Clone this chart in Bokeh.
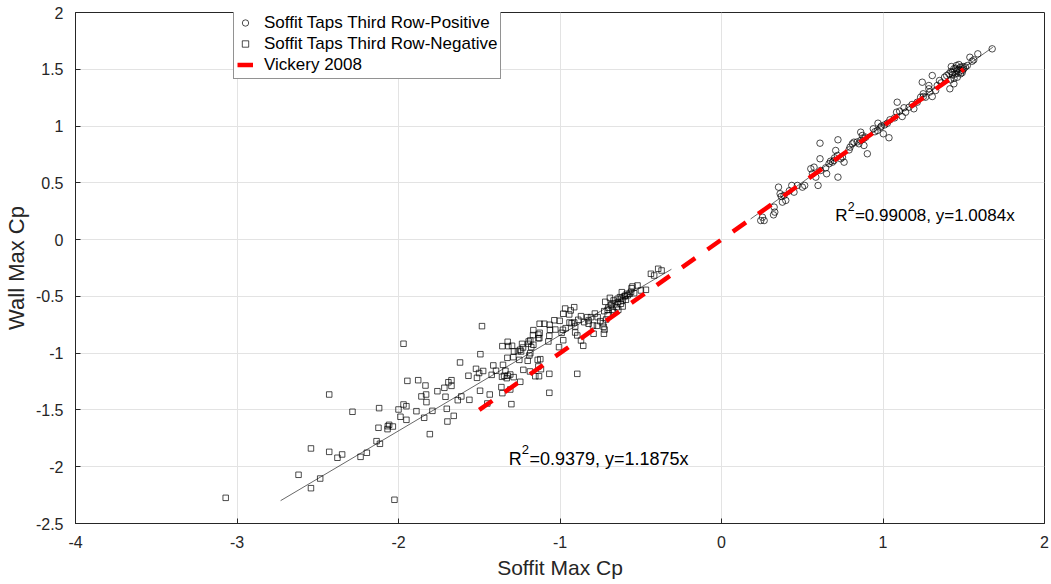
from bokeh.plotting import figure
from bokeh.models import Legend, LegendItem, SingleIntervalTicker, CustomJSTickFormatter, ColumnDataSource
from bokeh.core.properties import value
from bokeh.embed import file_html
from bokeh.resources import INLINE

# ---------------- data ----------------
pos_points = [
    (1.676, 1.680), (1.587, 1.636), (1.538, 1.606), (1.552, 1.571), (1.562, 1.583), (1.522, 1.533),
    (1.423, 1.524), (1.439, 1.504), (1.455, 1.533), (1.470, 1.542), (1.480, 1.518), (1.491, 1.489),
    (1.470, 1.474), (1.449, 1.460), (1.429, 1.474), (1.408, 1.460), (1.460, 1.430), (1.480, 1.460),
    (1.500, 1.504), (1.394, 1.445), (1.381, 1.430), (1.418, 1.407), (1.439, 1.372), (1.414, 1.328),
    (1.496, 1.524), (1.46, 1.49), (1.45, 1.51), (1.49, 1.47), (1.43, 1.45), (1.47, 1.50), (1.51, 1.52),
    (1.44, 1.42), (1.42, 1.48),
    (1.305, 1.445), (1.336, 1.357), (1.350, 1.401), (1.326, 1.313), (1.243, 1.386), (1.284, 1.328),
    (1.249, 1.284), (1.263, 1.254), (1.305, 1.260), (1.212, 1.210), (1.191, 1.152), (1.140, 1.122),
    (1.088, 1.210), (1.084, 1.122), (1.119, 1.084), (1.072, 1.072), (1.043, 1.055), (1.027, 1.025),
    (1.284, 1.357), (1.103, 1.131), (1.130, 1.161), (1.161, 1.166), (1.233, 1.254), (1.18, 1.19),
    (1.25, 1.26), (1.29, 1.30), (1.36, 1.38),
    (0.969, 1.025), (0.985, 0.990), (1.002, 0.932), (1.037, 0.897), (0.965, 0.961), (0.940, 0.976),
    (1.01, 1.01), (0.99, 1.00), (0.95, 0.95),
    (0.862, 0.946), (0.872, 0.917), (0.893, 0.902), (0.851, 0.844), (0.882, 0.829), (0.903, 0.756),
    (0.862, 0.873), (0.820, 0.858), (0.796, 0.814), (0.810, 0.844), (0.84, 0.86), (0.88, 0.89), (0.79, 0.79),
    (0.721, 0.879), (0.610, 0.849), (0.707, 0.785), (0.718, 0.741), (0.759, 0.682), (0.738, 0.712),
    (0.697, 0.697), (0.666, 0.668), (0.687, 0.682), (0.610, 0.712), (0.749, 0.726), (0.721, 0.550),
    (0.651, 0.580), (0.645, 0.632), (0.614, 0.609), (0.598, 0.477), (0.563, 0.580), (0.553, 0.624),
    (0.573, 0.638), (0.584, 0.550), (0.675, 0.690), (0.700, 0.720),
    (0.515, 0.477), (0.501, 0.462), (0.449, 0.418), (0.387, 0.389), (0.353, 0.462), (0.363, 0.404),
    (0.398, 0.345), (0.377, 0.330), (0.326, 0.286), (0.330, 0.242), (0.254, 0.197), (0.264, 0.168),
    (0.322, 0.218), (0.37, 0.38), (0.42, 0.43), (0.435, 0.477), (0.470, 0.477), (0.243, 0.168),
]

neg_points = [
    (-1.969, -0.917), (-2.429, -1.364), (-2.285, -1.516), (-2.120, -1.484), (-2.000, -1.496),
    (-1.969, -1.452), (-1.951, -1.467), (-1.945, -1.244), (-1.878, -1.238), (-1.833, -1.285),
    (-1.858, -1.381), (-1.829, -1.364), (-1.827, -1.431), (-1.988, -1.560), (-1.951, -1.587),
    (-1.889, -1.511), (-1.841, -1.569), (-1.790, -1.508), (-1.806, -1.713), (-1.759, -1.335),
    (-1.716, -1.305), (-1.691, -1.256), (-1.672, -1.238), (-1.672, -1.288), (-1.709, -1.384),
    (-1.701, -1.490), (-1.697, -1.602), (-1.658, -1.552), (-2.124, -1.657), (-2.066, -1.643),
    (-2.058, -1.631), (-2.035, -1.646), (-2.068, -1.669), (-2.136, -1.775), (-2.115, -1.798),
    (-2.542, -1.839), (-2.429, -1.869), (-2.378, -1.921), (-2.349, -1.892), (-2.235, -1.913),
    (-2.196, -1.877), (-2.619, -2.071), (-2.485, -2.104), (-2.542, -2.189), (-3.070, -2.274),
    (-2.025, -2.291),
    (-1.483, -0.762), (-1.493, -1.009), (-1.619, -1.082), (-1.567, -1.199), (-1.520, -1.138),
    (-1.514, -1.217), (-1.501, -1.175), (-1.476, -1.157), (-1.633, -1.414), (-1.611, -1.381),
    (-1.561, -1.411), (-1.495, -1.331), (-1.435, -1.364), (-1.450, -1.443), (-1.301, -1.449),
    (-1.363, -1.299), (-1.357, -1.352), (-1.308, -1.320), (-1.423, -1.191), (-1.413, -1.108),
    (-1.396, -1.155), (-1.353, -1.103), (-1.338, -1.155), (-1.359, -1.208), (-1.346, -1.199),
    (-1.324, -1.199), (-1.308, -1.188), (-1.330, -1.220), (-1.287, -1.211), (-1.227, -1.147),
    (-1.246, -1.252), (-1.326, -1.041), (-1.289, -1.035), (-1.285, -0.985), (-1.252, -1.059),
    (-1.260, -0.982), (-1.247, -0.970), (-1.241, -0.985), (-1.357, -0.938), (-1.324, -0.900),
    (-1.320, -0.938), (-1.297, -0.935), (-1.235, -0.918), (-1.229, -0.950), (-1.196, -0.918),
    (-1.190, -1.020), (-1.200, -1.067), (-1.184, -1.000), (-1.178, -0.947), (-1.184, -0.888),
    (-1.165, -0.926), (-1.194, -0.897), (-1.165, -0.797), (-1.167, -0.841), (-1.134, -0.868),
    (-1.134, -0.836), (-1.128, -0.868), (-1.126, -0.821), (-1.186, -1.161), (-1.138, -1.059),
    (-1.122, -1.053), (-1.153, -1.203), (-1.130, -1.203), (-1.134, -1.117), (-1.118, -1.141),
    (-1.066, -1.182), (-1.066, -1.349), (-0.893, -1.182), (-1.126, -0.741), (-1.097, -0.741),
    (-1.064, -0.750), (-1.035, -0.710), (-1.002, -0.715), (-1.029, -0.792), (-1.062, -0.794),
    (-1.066, -0.847), (-1.072, -0.897), (-0.982, -0.794), (-0.990, -0.821), (-0.980, -0.886),
    (-1.006, -0.947), (-0.965, -0.780), (-0.968, -0.607), (-0.943, -0.659), (-0.934, -0.624),
    (-0.912, -0.595), (-0.941, -0.730), (-0.928, -0.736), (-0.912, -0.730), (-0.887, -0.706),
    (-0.906, -0.765), (-0.906, -0.818), (-0.893, -0.844), (-0.870, -0.888), (-0.856, -0.935),
    (-0.870, -0.674), (-0.850, -0.727), (-0.831, -0.683), (-0.823, -0.712), (-0.823, -0.741),
    (-0.808, -0.683), (-0.784, -0.651), (-0.767, -0.683), (-0.751, -0.718), (-0.734, -0.736),
    (-0.730, -0.768), (-0.724, -0.792), (-0.714, -0.703), (-0.792, -0.829), (-0.728, -0.829),
    (-0.796, -0.756), (-0.771, -0.759), (-0.720, -0.548), (-0.705, -0.618), (-0.685, -0.580),
    (-0.668, -0.536), (-0.664, -0.639), (-0.649, -0.595), (-0.643, -0.521), (-0.629, -0.507),
    (-0.612, -0.536), (-0.623, -0.565), (-0.592, -0.530), (-0.598, -0.495), (-0.586, -0.477),
    (-0.569, -0.477), (-0.557, -0.428), (-0.541, -0.472), (-0.520, -0.404), (-0.499, -0.448),
    (-0.468, -0.442), (-0.437, -0.301), (-0.417, -0.316), (-0.392, -0.257), (-0.371, -0.272),
    (-0.691, -0.513), (-0.677, -0.618), (-0.726, -0.630), (-0.705, -0.668), (-0.612, -0.589),
    (-0.639, -0.618), (-0.617, -0.463), (-0.551, -0.413), (-0.980, -0.653),
    (-0.66, -0.56), (-0.64, -0.55), (-0.62, -0.52), (-0.60, -0.50), (-0.58, -0.49), (-0.56, -0.46),
    (-0.70, -0.60), (-0.68, -0.57),
]

pos_x = [a for a, b in pos_points]
pos_y = [b for a, b in pos_points]
neg_x = [a for a, b in neg_points]
neg_y = [b for a, b in neg_points]

# fitted lines and reference line (end points / slopes)
pos_fit_x = [0.18, 1.68]
pos_slope = 1.0084
neg_fit_x = [-2.73, -0.31]
neg_slope = 1.0 / 1.1875
vickery_x = [-1.5, 1.5]
vickery_slope = 1.0

series_labels = ["Soffit Taps Third Row-Positive", "Soffit Taps Third Row-Negative", "Vickery 2008"]
pos_note = "=0.99008, y=1.0084x"
neg_note = "=0.9379, y=1.1875x"

# ---------------- figure ----------------
FONT = "Liberation Sans"
DARK = "#262626"

p = figure(width=1051, height=584, x_range=(-4, 2), y_range=(-2.5, 2),
           output_backend="svg", toolbar_location=None,
           min_border_left=74, min_border_right=7, min_border_top=12, min_border_bottom=61)
p.background_fill_color = "white"
p.border_fill_color = "white"
p.outline_line_color = DARK
p.outline_line_width = 1

fmt = CustomJSTickFormatter(code="return String(Math.round(tick*10)/10);")
p.xaxis.ticker = SingleIntervalTicker(interval=1)
p.yaxis.ticker = SingleIntervalTicker(interval=0.5)
for ax in (p.xaxis[0], p.yaxis[0]):
    ax.formatter = fmt
    ax.major_tick_in = 5
    ax.major_tick_out = 0
    ax.minor_tick_in = 0
    ax.minor_tick_out = 0
    ax.axis_line_color = DARK
    ax.major_tick_line_color = DARK
    ax.major_label_text_font = FONT
    ax.major_label_text_font_size = "16px"
    ax.major_label_text_color = DARK
    ax.axis_label_text_font = FONT
    ax.axis_label_text_font_style = "normal"
    ax.axis_label_text_color = DARK
p.xaxis.axis_label = "Soffit Max Cp"
p.yaxis.axis_label = "Wall Max Cp"
p.xaxis.axis_label_text_font_size = "21px"
p.yaxis.axis_label_text_font_size = "22px"
p.xaxis.major_label_standoff = 12
p.xaxis.axis_label_standoff = 5
p.yaxis.major_label_standoff = 12
p.yaxis.axis_label_standoff = 4

p.grid.grid_line_color = "#e3e3e3"
p.grid.grid_line_width = 1

# fit lines
p.line(pos_fit_x, [pos_slope * v for v in pos_fit_x], line_color="black", line_width=0.6)
p.line(neg_fit_x, [neg_slope * v for v in neg_fit_x], line_color="black", line_width=0.6)

# scatter
src_pos = ColumnDataSource(dict(x=pos_x, y=pos_y))
src_neg = ColumnDataSource(dict(x=neg_x, y=neg_y))
r_pos = p.scatter("x", "y", source=src_pos, marker="circle", size=6.5, fill_color=None,
                  line_color="black", line_width=0.7)
r_neg = p.scatter("x", "y", source=src_neg, marker="square", size=5.5, fill_color=None,
                  line_color="black", line_width=0.7)

# Vickery 2008 line
r_vic = p.line(vickery_x, [vickery_slope * v for v in vickery_x], line_color="red",
               line_width=4.5, line_dash="16 15")

# annotations: "R" + superscript "2" + rest
def note(x, y, rest, size):
    common = dict(text_font=value(FONT), text_baseline="alphabetic", text_align="left",
                  text_color="black")
    r_w = 0.722 * size
    p.text(x=[x], y=[y], text=["R"], text_font_size=f"{size}px", **common)
    p.text(x=[x], y=[y], text=["2"], text_font_size=f"{0.73 * size:.1f}px",
           x_offset=r_w, y_offset=-0.5 * size, **common)
    p.text(x=[x], y=[y], text=[rest], text_font_size=f"{size}px",
           x_offset=r_w + 0.43 * size, **common)

note(0.705, 0.215, pos_note, 17)
note(-1.318, -1.93, neg_note, 18)

legend = Legend(items=[LegendItem(label=series_labels[0], renderers=[r_pos]),
                       LegendItem(label=series_labels[1], renderers=[r_neg]),
                       LegendItem(label=series_labels[2], renderers=[r_vic])],
                location=(158, 444))
legend.label_text_font = FONT
legend.label_text_font_size = "17px"
legend.label_text_color = "black"
legend.glyph_width = 16
legend.glyph_height = 21
legend.label_height = 21
legend.label_standoff = 11
legend.spacing = 0
legend.padding = 3
legend.margin = 0
legend.border_line_color = DARK
legend.border_line_width = 1
legend.background_fill_color = "white"
legend.background_fill_alpha = 1.0
p.add_layout(legend)

open("out.html", "w").write(file_html(p, INLINE))
